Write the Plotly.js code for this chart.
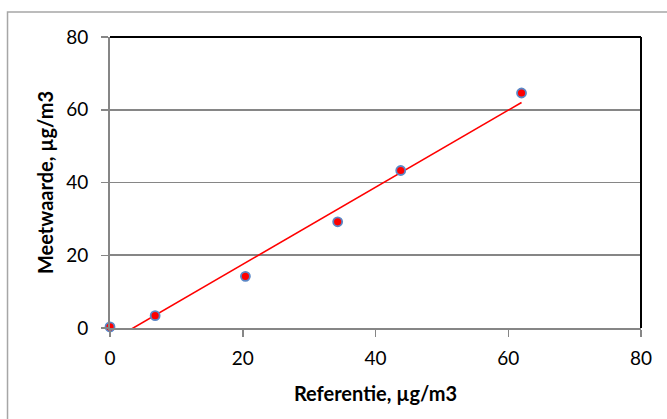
<!DOCTYPE html>
<html>
<head>
<meta charset="utf-8">
<script src="https://cdn.plot.ly/plotly-3.0.1.min.js"></script>
<style>html,body{margin:0;padding:0;background:#fff;}#chart{width:667px;height:419px;}</style>
</head>
<body>
<div id="chart"></div>
<script>
// Data
const referentie = [0, 6.8, 20.4, 34.3, 43.8, 62.0];
const meetwaarde = [0.3, 3.4, 14.2, 29.2, 43.3, 64.6];
// Trendline endpoints
const trendX = [0, 62.0];
const trendY = [-3.7, 62.0];
const tickVals = [0, 20, 40, 60, 80];
const tickText = ['0', '20', '40', '60', '80'];

const axisGray = '#868686';
const fontFam = 'Lato, "Open Sans", sans-serif';

const traces = [
  {
    x: trendX, y: trendY, type: 'scatter', mode: 'lines',
    line: {color: '#ff0000', width: 1.6}, hoverinfo: 'skip', showlegend: false
  },
  {
    x: referentie, y: meetwaarde, type: 'scatter', mode: 'markers',
    marker: {color: '#ff0000', size: 9, line: {color: '#5b87c6', width: 1.8}},
    showlegend: false, cliponaxis: false
  }
];

const layout = {
  width: 667, height: 419,
  margin: {l: 110, r: 26, t: 37, b: 91},
  paper_bgcolor: '#ffffff', plot_bgcolor: '#ffffff',
  font: {family: fontFam, color: '#000'},
  showlegend: false,
  xaxis: {
    range: [0, 80], tickvals: tickVals, ticktext: tickText,
    showgrid: false, zeroline: false,
    showline: true, linecolor: axisGray, linewidth: 1.8,
    ticks: 'outside', ticklen: 7, tickwidth: 1.5, tickcolor: axisGray,
    ticklabelstandoff: 5,
    tickfont: {family: fontFam, size: 19, color: '#000'},
    title: {text: 'Referentie, µg/m3', font: {family: fontFam, size: 20, color: '#000', weight: 'bold'}, standoff: 19},
    automargin: false, fixedrange: true
  },
  yaxis: {
    range: [0, 80], tickvals: tickVals, ticktext: tickText,
    showgrid: true, gridcolor: axisGray, gridwidth: 1.8, zeroline: false,
    showline: true, linecolor: axisGray, linewidth: 1.8,
    ticks: 'outside', ticklen: 7, tickwidth: 1.5, tickcolor: axisGray,
    ticklabelstandoff: 9,
    tickfont: {family: fontFam, size: 19, color: '#000'},
    title: {text: 'Meetwaarde, µg/m3', font: {family: fontFam, size: 20, color: '#000', weight: 'bold'}, standoff: 7},
    automargin: false, fixedrange: true
  },
  shapes: [
    {type: 'line', xref: 'paper', yref: 'paper', x0: 0, x1: 1, y0: 1, y1: 1, line: {color: '#000', width: 2}},
    {type: 'line', xref: 'paper', yref: 'paper', x0: 1, x1: 1, y0: 0, y1: 1, line: {color: '#000', width: 2}},
    {type: 'rect', xref: 'paper', yref: 'paper', x0: -0.193, x1: 1.2, y0: -0.5, y1: 1.0859,
     line: {color: '#a6a6a6', width: 1.5}, fillcolor: 'rgba(0,0,0,0)', layer: 'below'}
  ]
};

Plotly.newPlot('chart', traces, layout, {displayModeBar: false, staticPlot: true});
</script>
</body>
</html>
